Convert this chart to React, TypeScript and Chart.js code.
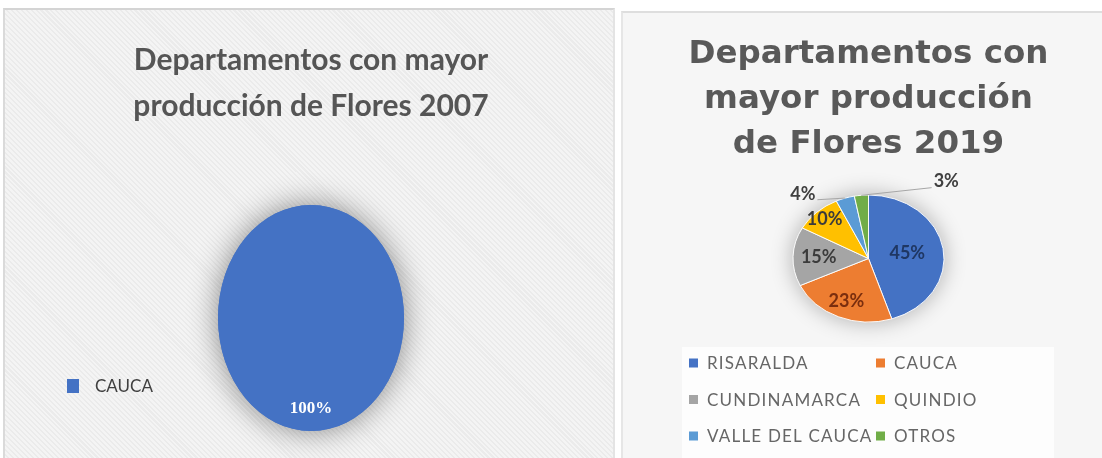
import React, { useEffect, useRef } from "react";
import { Chart, registerables } from "chart.js";

Chart.register(...registerables);

// ---------- DATA ----------
const title2007 = ["Departamentos con mayor", "producción de Flores 2007"];
const labels2007 = ["CAUCA"];
const values2007 = [100];
const colors2007 = ["#4472c4"];

const title2019 = ["Departamentos con", "mayor producción", "de Flores 2019"];
const labels2019 = ["RISARALDA", "CAUCA", "CUNDINAMARCA", "QUINDIO", "VALLE DEL CAUCA", "OTROS"];
const values2019 = [45, 23, 15, 10, 4, 3];
const colors2019 = ["#4472c4", "#ed7d31", "#a5a5a5", "#ffc000", "#5b9bd5", "#70ad47"];
const labelColors2019 = ["#1f3763", "#7a2e0e", "#3b3b3b", "#3b3b3b", "#404040", "#404040"];
// label placement style: inside radius factor, or outside offset (in radius units) with leader line
const labelRadius2019 = [0.52, 0.74, 0.66, 0.85, 0, 0];
const outsideLabel2019: ({ dx: number; dy: number } | null)[] = [
  null, null, null, null, { dx: -0.87, dy: -1.02 }, { dx: 1.03, dy: -1.21 },
];

// ---------- PLUGINS ----------
const ellipsePie = {
  id: "ellipsePie",
  beforeDatasetsDraw(chart: any, _a: any, o: any) {
    const arc = chart.getDatasetMeta(0).data[0];
    if (!arc) return;
    const { x, y, outerRadius } = arc;
    const ctx = chart.ctx;
    // soft glow behind pie
    ctx.save();
    ctx.shadowColor = o.shadowColor;
    ctx.shadowBlur = o.shadowBlur;
    ctx.fillStyle = o.shadowFill;
    ctx.beginPath();
    ctx.ellipse(x, y, outerRadius * o.sx, outerRadius * o.sy, 0, 0, Math.PI * 2);
    ctx.fill();
    ctx.restore();
    ctx.save();
    ctx.translate(x, y);
    ctx.scale(o.sx, o.sy);
    ctx.translate(-x, -y);
  },
  afterDatasetsDraw(chart: any, _a: any, o: any) {
    const ctx = chart.ctx;
    ctx.restore();
    const meta = chart.getDatasetMeta(0);
    const total = (chart.data.datasets[0].data as number[]).reduce((s, v) => s + v, 0);
    ctx.save();
    ctx.font = o.labelFont;
    ctx.textAlign = "center";
    ctx.textBaseline = "middle";
    meta.data.forEach((arc: any, i: number) => {
      const v = chart.data.datasets[0].data[i] as number;
      const txt = Math.round((v / total) * 100) + "%";
      const mid = (arc.startAngle + arc.endAngle) / 2;
      const r = arc.outerRadius;
      const out = o.outside ? o.outside[i] : null;
      ctx.fillStyle = o.labelColors[i];
      if (out) {
        const lx = arc.x + out.dx * r * o.sx;
        const ly = arc.y + out.dy * r * o.sy;
        const ex = arc.x + Math.cos(mid) * r * o.sx;
        const ey = arc.y + Math.sin(mid) * r * o.sy;
        const tw = ctx.measureText(txt).width;
        const side = out.dx < 0 ? 1 : -1;
        ctx.strokeStyle = "#a6a6a6";
        ctx.lineWidth = 1;
        ctx.beginPath();
        ctx.moveTo(lx + side * (tw / 2 + 2), ly + 6);
        ctx.lineTo(ex, ey);
        ctx.stroke();
        ctx.fillText(txt, lx, ly);
      } else {
        const f = o.radius[i];
        ctx.fillText(txt, arc.x + Math.cos(mid) * r * f * o.sx, arc.y + Math.sin(mid) * r * f * o.sy);
      }
    });
    ctx.restore();
  },
};

const gridLegend = {
  id: "gridLegend",
  afterDraw(chart: any, _a: any, o: any) {
    const ctx = chart.ctx;
    const labels = chart.data.labels as string[];
    const colors = chart.data.datasets[0].backgroundColor as string[];
    ctx.save();
    ctx.font = o.font;
    (ctx as any).letterSpacing = o.letterSpacing || "0px";
    ctx.textBaseline = "middle";
    ctx.textAlign = "left";
    labels.forEach((lab, i) => {
      const col = i % o.cols;
      const row = Math.floor(i / o.cols);
      const x = o.x + col * o.colWidth;
      const y = o.y + row * o.rowHeight;
      ctx.fillStyle = colors[i];
      ctx.fillRect(x, y - o.boxH / 2, o.boxW, o.boxH);
      ctx.fillStyle = o.color;
      ctx.fillText(lab, x + o.boxW + o.gap, y + 1);
    });
    ctx.restore();
  },
};

// ---------- CHARTS ----------
function PieLeft() {
  const ref = useRef<HTMLCanvasElement>(null);
  useEffect(() => {
    const chart = new Chart(ref.current!, {
      type: "pie",
      data: {
        labels: labels2007,
        datasets: [{ data: values2007, backgroundColor: colors2007, borderWidth: 0, radius: 93, clip: false } as any],
      },
      plugins: [ellipsePie, gridLegend],
      options: {
        animation: false,
        responsive: true,
        maintainAspectRatio: false,
        layout: { padding: { left: 3, right: 0, top: 0, bottom: 0 } },
        plugins: {
          legend: { display: false },
          tooltip: { enabled: false },
          title: {
            display: true,
            text: title2007,
            color: "#555555",
            font: { family: "Lato", size: 30, weight: "bold", lineHeight: 46.5 / 30 },
            padding: { top: 28, bottom: 48 },
          },
          ellipsePie: {
            sx: 1,
            sy: 113 / 93,
            shadowColor: "rgba(0,0,0,0.45)",
            shadowBlur: 30,
            shadowFill: "#4472c4",
            labelFont: "bold 17px 'Liberation Serif'",
            labelColors: ["#ffffff"],
            radius: [0.8],
          },
          gridLegend: {
            x: 63, y: 377, cols: 1, colWidth: 0, rowHeight: 0,
            boxW: 12, boxH: 14, gap: 16,
            font: "17px Lato", color: "#404040",
          },
        } as any,
      },
    });
    return () => chart.destroy();
  }, []);
  return <canvas ref={ref} />;
}

function PieRight() {
  const ref = useRef<HTMLCanvasElement>(null);
  useEffect(() => {
    const chart = new Chart(ref.current!, {
      type: "pie",
      data: {
        labels: labels2019,
        datasets: [{ data: values2019, backgroundColor: colors2019, borderWidth: 1, borderColor: "#ffffff", radius: 75.5, clip: false } as any],
      },
      plugins: [ellipsePie, gridLegend],
      options: {
        animation: false,
        responsive: true,
        maintainAspectRatio: false,
        layout: { padding: { left: 13, right: 0, top: 0, bottom: 108.5 } },
        plugins: {
          legend: { display: false },
          tooltip: { enabled: false },
          title: {
            display: true,
            text: title2019,
            color: "#595959",
            font: { family: "DejaVu Sans", size: 32.5, weight: "bold", lineHeight: 45 / 32.5 },
            padding: { top: 20.5, bottom: 0 },
          },
          ellipsePie: {
            sx: 1,
            sy: 63.5 / 75.5,
            shadowColor: "rgba(0,0,0,0.3)",
            shadowBlur: 22,
            shadowFill: "#dddddd",
            labelFont: "bold 18px Lato",
            labelColors: labelColors2019,
            radius: labelRadius2019,
            outside: outsideLabel2019,
          },
          gridLegend: {
            x: 67, y: 351, cols: 2, colWidth: 187, rowHeight: 36.5,
            boxW: 9, boxH: 9, gap: 9,
            font: "17px Lato", color: "#666666", letterSpacing: "1.2px",
          },
        } as any,
      },
    });
    return () => chart.destroy();
  }, []);
  return <canvas ref={ref} />;
}

export default function App() {
  return (
    <div style={{ position: "fixed", left: 0, top: 0, width: 1102, height: 458, background: "#ffffff", overflow: "hidden" }}>
      {/* left panel */}
      <div
        style={{
          position: "absolute", left: 3, top: 8, width: 612, height: 450,
          background: "repeating-linear-gradient(45deg, #f4f4f4 0px, #f4f4f4 2px, #ebebeb 2px, #ebebeb 3.5px)",
          borderTop: "2px solid #d4d4d4", borderLeft: "2px solid #dadada", borderRight: "2px solid #e4e4e4",
          boxSizing: "border-box",
        }}
      />
      <div style={{ position: "absolute", left: 4, top: 9, width: 611, height: 449 }}>
        <PieLeft />
      </div>
      {/* right panel */}
      <div
        style={{
          position: "absolute", left: 621, top: 11, width: 481, height: 447,
          background: "#f6f6f6", borderTop: "2px solid #dedede", borderLeft: "2px solid #e6e6e6",
          boxSizing: "border-box",
        }}
      />
      <div style={{ position: "absolute", left: 682, top: 347, width: 372, height: 111, background: "#fdfdfd" }} />
      <div style={{ position: "absolute", left: 622, top: 12, width: 480, height: 446 }}>
        <PieRight />
      </div>
    </div>
  );
}
